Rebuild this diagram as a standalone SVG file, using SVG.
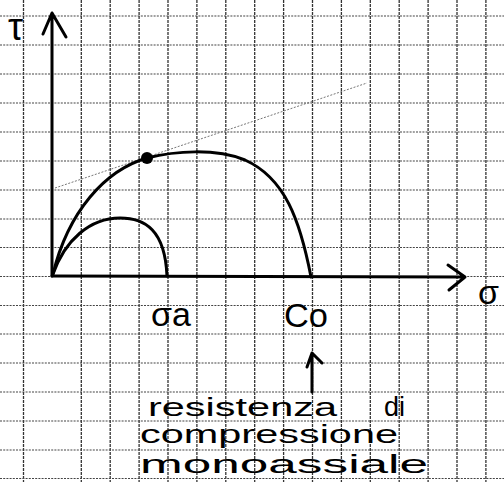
<svg xmlns="http://www.w3.org/2000/svg" width="504" height="482" viewBox="0 0 504 482">
<style>
.ink{fill:none;stroke:#000;stroke-width:3;stroke-linecap:round;stroke-linejoin:round}
.lbl{font-family:"Liberation Sans","DejaVu Sans",sans-serif;fill:#000}
.tan{fill:none;stroke:#777;stroke-width:1;stroke-dasharray:2 1.5}
.gv{stroke:#333;stroke-width:1.3;stroke-dasharray:3 1}
.gh{stroke:#444;stroke-width:1.2;stroke-dasharray:2 1.2}
</style>
<rect width="504" height="482" fill="#fff"/>
<g id="grid-paper">
<line class="gv" x1="23.5" y1="0" x2="23.5" y2="482"/>
<line class="gv" x1="81.3" y1="0" x2="81.3" y2="482"/>
<line class="gv" x1="110.2" y1="0" x2="110.2" y2="482"/>
<line class="gv" x1="139.1" y1="0" x2="139.1" y2="482"/>
<line class="gv" x1="168" y1="0" x2="168" y2="482"/>
<line class="gv" x1="196.9" y1="0" x2="196.9" y2="482"/>
<line class="gv" x1="225.8" y1="0" x2="225.8" y2="482"/>
<line class="gv" x1="254.7" y1="0" x2="254.7" y2="482"/>
<line class="gv" x1="283.6" y1="0" x2="283.6" y2="482"/>
<line class="gv" x1="312.5" y1="0" x2="312.5" y2="482"/>
<line class="gv" x1="341.4" y1="0" x2="341.4" y2="482"/>
<line class="gv" x1="370.3" y1="0" x2="370.3" y2="482"/>
<line class="gv" x1="399.2" y1="0" x2="399.2" y2="482"/>
<line class="gv" x1="428.1" y1="0" x2="428.1" y2="482"/>
<line class="gv" x1="457" y1="0" x2="457" y2="482"/>
<line class="gv" x1="485.9" y1="0" x2="485.9" y2="482"/>
<line class="gh" x1="0" y1="16" x2="504" y2="16"/>
<line class="gh" x1="0" y1="45" x2="504" y2="45"/>
<line class="gh" x1="0" y1="74" x2="504" y2="74"/>
<line class="gh" x1="0" y1="103" x2="504" y2="103"/>
<line class="gh" x1="0" y1="132" x2="504" y2="132"/>
<line class="gh" x1="0" y1="161" x2="504" y2="161"/>
<line class="gh" x1="0" y1="190" x2="504" y2="190"/>
<line class="gh" x1="0" y1="219" x2="504" y2="219"/>
<line class="gh" x1="0" y1="247.5" x2="504" y2="247.5"/>
<line class="gh" x1="0" y1="276.5" x2="504" y2="276.5"/>
<line class="gh" x1="0" y1="305.5" x2="504" y2="305.5"/>
<line class="gh" x1="0" y1="334" x2="504" y2="334"/>
<line class="gh" x1="0" y1="363" x2="504" y2="363"/>
<line class="gh" x1="0" y1="392" x2="504" y2="392"/>
<line class="gh" x1="0" y1="421" x2="504" y2="421"/>
<line class="gh" x1="0" y1="450" x2="504" y2="450"/>
<line class="gh" x1="0" y1="478.5" x2="504" y2="478.5"/>
</g>
<g id="connectors">
<path id="tau-axis" class="ink" d="M52,276 L52,13 M43,34 L52,13 L66,37"/>
<path id="sigma-axis" class="ink" d="M52,276 L465,277 M448,265 L465,277 L449,290"/>
<path id="tangent" class="tan" d="M55,188 L367,83"/>
<path id="big-circle" class="ink" d="M53,274 C68,212 105,170 147,158 C175,151 215,148 245,160 C285,178 300,220 311,277"/>
<path id="small-circle" class="ink" d="M53,274 C65,240 90,218 120,218 C145,218 165,230 167,276"/>
<path id="pointer" class="ink" stroke-width="2.5" d="M312,392 L312,353 M307,367 L312,353 L322,363"/>
</g>
<g id="tangent-point"><circle cx="147" cy="158" r="6" fill="#000"/></g>
<g id="tau-label"><text class="lbl" x="8" y="40" font-size="38">τ</text></g>
<g id="sigma-label"><text class="lbl" x="478" y="304" font-size="34">σ</text></g>
<g id="sigma-a-label"><text class="lbl" x="151" y="326" font-size="34">σa</text></g>
<g id="c0-label"><text class="lbl" x="284" y="327" font-size="34" textLength="44" lengthAdjust="spacingAndGlyphs">Co</text></g>
<g id="note">
<text class="lbl" font-size="25" y="416"><tspan x="148" textLength="189" lengthAdjust="spacingAndGlyphs">resistenza</tspan> <tspan x="384" font-size="27">di</tspan></text>
<text class="lbl" font-size="25" x="140" y="443" textLength="258" lengthAdjust="spacingAndGlyphs">compressione</text>
<text class="lbl" font-size="25" x="140" y="473" textLength="288" lengthAdjust="spacingAndGlyphs">monoassiale</text>
</g>
</svg>
